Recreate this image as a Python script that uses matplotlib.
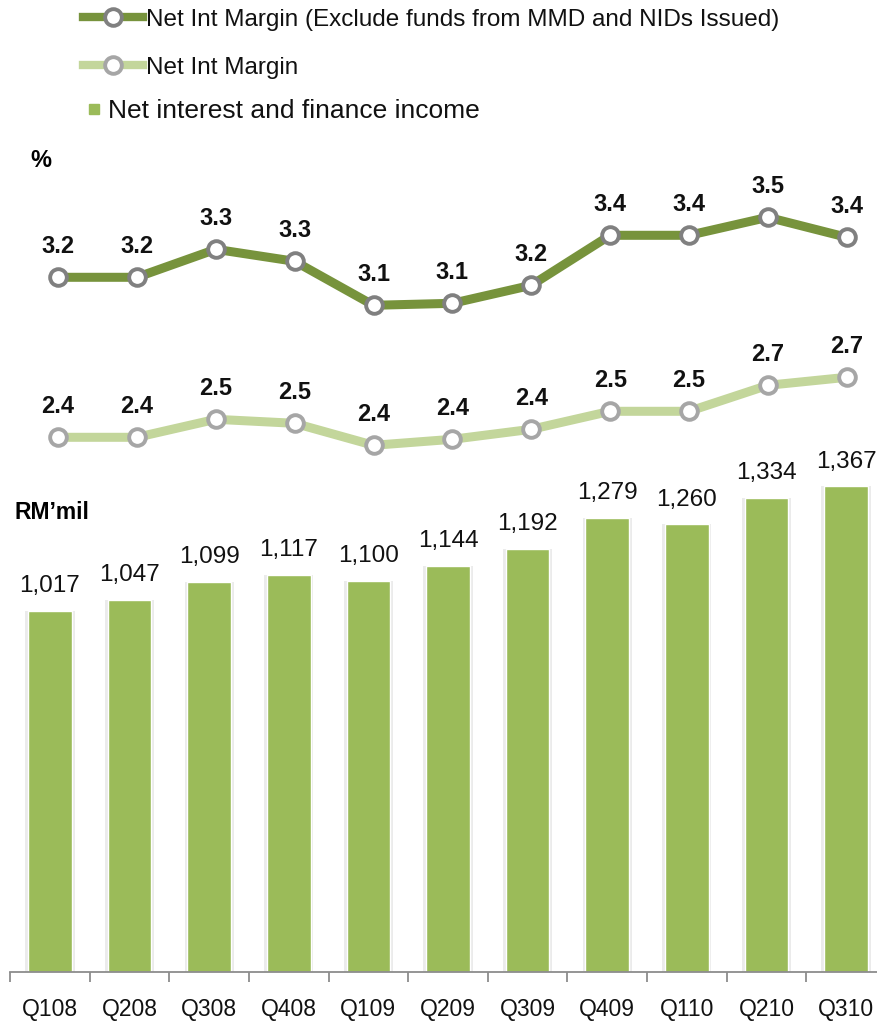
#!/usr/bin/env python3
"""Quarterly net interest income (bars) with net interest margin lines."""

import matplotlib
matplotlib.use('Agg')  # non-interactive backend
import matplotlib.pyplot as plt
from matplotlib.lines import Line2D
import numpy as np

plt.rcParams['font.family'] = ['Liberation Sans', 'DejaVu Sans']

quarters = ['Q108', 'Q208', 'Q308', 'Q408', 'Q109', 'Q209',
            'Q309', 'Q409', 'Q110', 'Q210', 'Q310']
income = [1017, 1047, 1099, 1117, 1100, 1144, 1192, 1279, 1260, 1334, 1367]
nim_excl = [3.20, 3.20, 3.34, 3.28, 3.06, 3.07, 3.16, 3.41, 3.41, 3.50, 3.40]
nim = [2.40, 2.40, 2.49, 2.47, 2.36, 2.39, 2.44, 2.53, 2.53, 2.66, 2.70]

BAR_GREEN = '#9BBB59'
DARK_GREEN = '#77933C'
LIGHT_GREEN = '#C3D69B'
AXIS_GREY = '#8c8c8c'

W, H = 878, 1021


def fx(px):
    return px / W


def fy(py):
    return 1 - py / H


fig = plt.figure(figsize=(W / 100, H / 100), dpi=100)

# plot area in pixels: baseline at y=971.7, top at y=140
base_px, top_px = 971.7, 140.0
x = np.arange(len(quarters))

# --- bars ---
ax = fig.add_axes([fx(10.2), fy(base_px), 875.6 / W, (base_px - top_px) / H])
ax.bar(x, income, width=0.62, color='#ebebeb', zorder=1)
ax.bar(x, income, width=0.55, color=BAR_GREEN, edgecolor='white',
       linewidth=1.0, zorder=2)
for xi, v in zip(x, income):
    ax.annotate(f'{v:,}', (xi, v), xytext=(0, 13.5), textcoords='offset points',
                ha='center', va='baseline', fontsize=17.5, color='#111111')

ax.set_xlim(-0.5, 10.5)
ax.set_ylim(0, (base_px - top_px) / 0.355)
for side in ('top', 'left', 'right'):
    ax.spines[side].set_visible(False)
ax.spines['bottom'].set_color(AXIS_GREY)
ax.spines['bottom'].set_linewidth(1.3)
ax.set_yticks([])
ax.set_xticks(x)
ax.set_xticklabels(quarters, fontsize=16.5, color='#111111')
ax.set_xticks(np.arange(-0.5, len(quarters), 1), minor=True)
ax.tick_params(axis='x', which='major', length=0, pad=19)
ax.tick_params(axis='x', which='minor', length=7, width=1.3,
               color=AXIS_GREY, direction='out')

# --- margin lines on their own axes ---
ax2 = fig.add_axes([fx(18.6), fy(base_px), 867.6 / W, (base_px - top_px) / H])
ax2.set_xlim(-0.5, 10.5)
ax2.set_ylim(-0.272, 3.8865)
ax2.axis('off')
ax2.patch.set_alpha(0)

for series, color, mec in [(nim_excl, DARK_GREEN, '#808080'),
                           (nim, LIGHT_GREEN, '#a6a6a6')]:
    ax2.plot(x, series, color=color, lw=6.5, marker='o', ms=12,
             mfc='white', mec=mec, mew=2.8, zorder=3)
    for xi, v in zip(x, series):
        ax2.annotate(f'{v:.1f}', (xi, v), xytext=(0, 17.5),
                     textcoords='offset points', ha='center', va='baseline',
                     fontsize=17, fontweight='bold', color='#111111')

# axis captions
fig.text(fx(41), fy(160), '%', ha='center', va='center',
         fontsize=17, fontweight='bold')
fig.text(fx(15), fy(519.3), 'RM\u2019mil', ha='left', va='baseline',
         fontsize=16.5, fontweight='bold')

# --- legend ---
legend_lines = [
    (17.3, 26.0, DARK_GREEN, '#808080',
     'Net Int Margin (Exclude funds from MMD and NIDs Issued)'),
    (65.0, 74.0, LIGHT_GREEN, '#a6a6a6', 'Net Int Margin'),
]
for y_line, y_text, color, mec, label in legend_lines:
    fig.add_artist(Line2D([fx(83), fx(143)], [fy(y_line)] * 2, color=color,
                          lw=6, transform=fig.transFigure))
    fig.add_artist(Line2D([fx(113)], [fy(y_line)], marker='o', ms=12,
                          mfc='white', mec=mec, mew=2.8,
                          transform=fig.transFigure))
    fig.text(fx(146), fy(y_text), label, fontsize=17.5, va='baseline',
             color='#111111')

fig.add_artist(Line2D([fx(94.5)], [fy(109)], marker='s', ms=7.9, lw=0,
                      color=BAR_GREEN, transform=fig.transFigure))
fig.text(fx(108), fy(118.3), 'Net interest and finance income', fontsize=19,
         va='baseline', color='#111111')

fig.savefig('out.png', dpi=100)
